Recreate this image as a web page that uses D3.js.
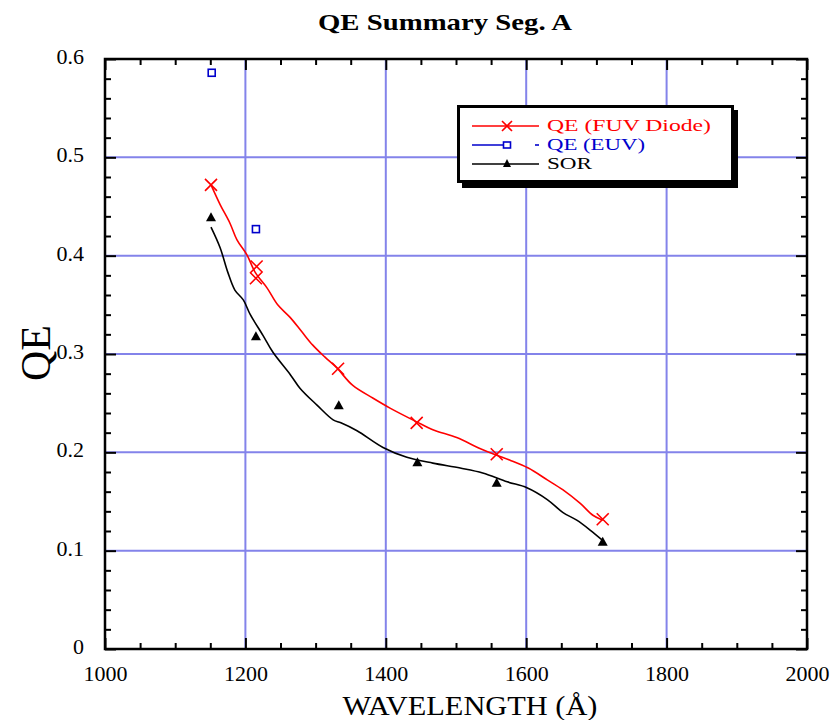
<!DOCTYPE html>
<html><head><meta charset="utf-8">
<script src="https://cdn.jsdelivr.net/npm/d3@7"></script>
<style>body{margin:0;background:#fff}svg{display:block}text{font-family:"Liberation Serif","Times New Roman",serif}</style>
</head><body>
<svg id="c" width="836" height="720"></svg>
<script>
// ---- data ----
const xTicks = [1000, 1200, 1400, 1600, 1800, 2000];
const yTicks = [0, 0.1, 0.2, 0.3, 0.4, 0.5, 0.6];
const yTickLabels = ["0", "0.1", "0.2", "0.3", "0.4", "0.5", "0.6"];
const fuvPoints = [[1151,0.472],[1216,0.389],[1215,0.377],[1332,0.285],[1444,0.230],[1558,0.198],[1709,0.132]];
const euvPoints = [[1152,0.586],[1215,0.427]];
const sorPoints = [[1151,0.439],[1215,0.318],[1333,0.248],[1445,0.190],[1558,0.169],[1709,0.109]];
const fuvCurve = [[1151,0.472],[1164,0.452],[1178,0.433],[1188,0.416],[1202,0.401],[1214,0.383],[1231,0.367],[1246,0.350],[1264,0.337],[1281,0.322],[1296,0.309],[1313,0.297],[1330,0.286],[1353,0.268],[1382,0.255],[1406,0.245],[1444,0.231],[1467,0.223],[1501,0.215],[1534,0.204],[1558,0.197],[1577,0.192],[1603,0.184],[1630,0.172],[1652,0.162],[1677,0.148],[1695,0.136],[1709,0.131]];
const sorCurve = [[1151,0.429],[1164,0.408],[1175,0.383],[1185,0.365],[1197,0.355],[1207,0.340],[1225,0.319],[1239,0.302],[1264,0.279],[1278,0.265],[1302,0.248],[1325,0.233],[1336,0.230],[1359,0.222],[1396,0.205],[1430,0.195],[1467,0.189],[1506,0.184],[1538,0.179],[1573,0.170],[1601,0.164],[1630,0.152],[1652,0.139],[1672,0.131],[1691,0.121],[1708,0.111]];
const legendLabels = ["QE (FUV Diode)", "QE (EUV)", "SOR"];
const title = "QE Summary Seg. A";
const xTitle = "WAVELENGTH (Å)";
const yTitle = "QE";

const FONT = "Liberation Serif, Times New Roman, serif";
const svg = d3.select("#c");
const L=105, R=807, T=59, B=649;
const x = d3.scaleLinear().domain([1000,2000]).range([L,R]);
const y = d3.scaleLinear().domain([0,0.6]).range([B,T]);
const grid = "#8383ea";

// grid
const g = svg.append("g");
g.selectAll(".gx").data(xTicks.slice(1,-1)).join("line")
  .attr("x1",d=>x(d)).attr("x2",d=>x(d)).attr("y1",T).attr("y2",B)
  .attr("stroke",grid).attr("stroke-width",2);
g.selectAll(".gy").data(yTicks.slice(1,-1)).join("line")
  .attr("y1",d=>y(d)).attr("y2",d=>y(d)).attr("x1",L).attr("x2",R)
  .attr("stroke",grid).attr("stroke-width",2);

// axes
const xMinor = d3.range(1000,2001,50).filter(v=>v%200!==0);
const yMinor = d3.range(0,31).map(i=>i*0.02).filter((v,i)=>i%5!==0);
function styleAxis(sel){ sel.attr("font-family",FONT); sel.select(".domain").remove(); sel.selectAll("line").attr("stroke","#000").attr("stroke-width",2); sel.selectAll("text").attr("font-size",22).attr("fill","#000").attr("font-family",FONT); }
svg.append("g").attr("transform",`translate(0,${B})`).call(d3.axisBottom(x).tickValues(xTicks).tickSizeInner(-11).tickSizeOuter(0).tickPadding(16).tickFormat(d3.format("d"))).call(styleAxis);
svg.append("g").attr("transform",`translate(0,${B})`).call(d3.axisBottom(x).tickValues(xMinor).tickSize(-6).tickFormat("")).call(styleAxis);
svg.append("g").attr("transform",`translate(0,${T})`).call(d3.axisTop(x).tickValues(xTicks).tickSize(-11).tickFormat("")).call(styleAxis);
svg.append("g").attr("transform",`translate(0,${T})`).call(d3.axisTop(x).tickValues(xMinor).tickSize(-6).tickFormat("")).call(styleAxis);
const yl = svg.append("g").attr("transform",`translate(${L},0)`).call(d3.axisLeft(y).tickValues(yTicks).tickSizeInner(-11).tickSizeOuter(0).tickPadding(21).tickFormat((d,i)=>yTickLabels[i])).call(styleAxis);
yl.selectAll("text").attr("dy","0.2em");
svg.append("g").attr("transform",`translate(${L},0)`).call(d3.axisLeft(y).tickValues(yMinor).tickSize(-6).tickFormat("")).call(styleAxis);
svg.append("g").attr("transform",`translate(${R},0)`).call(d3.axisRight(y).tickValues(yTicks).tickSize(-11).tickFormat("")).call(styleAxis);
svg.append("g").attr("transform",`translate(${R},0)`).call(d3.axisRight(y).tickValues(yMinor).tickSize(-6).tickFormat("")).call(styleAxis);

// frame
svg.append("rect").attr("x",L).attr("y",T).attr("width",R-L).attr("height",B-T).attr("fill","none").attr("stroke","#000").attr("stroke-width",2.5);

// curves
const line = d3.line().x(d=>x(d[0])).y(d=>y(d[1])).curve(d3.curveCatmullRom.alpha(0.5));
svg.append("path").datum(fuvCurve).attr("d",line).attr("fill","none").attr("stroke","#f00").attr("stroke-width",1.6);
svg.append("path").datum(sorCurve).attr("d",line).attr("fill","none").attr("stroke","#000").attr("stroke-width",1.6);

// markers
const xMark = (sel)=>sel.append("path").attr("d","M-6,-6L6,6M-6,6L6,-6").attr("stroke","#f00").attr("stroke-width",1.6).attr("fill","none");
const triPath = "M0,-5L5,4L-5,4Z";
svg.selectAll(".fuv").data(fuvPoints).join("g").attr("transform",d=>`translate(${x(d[0])},${y(d[1])})`).call(xMark);
svg.selectAll(".euv").data(euvPoints).join("rect").attr("x",d=>x(d[0])-3.5).attr("y",d=>y(d[1])-3.5).attr("width",7).attr("height",7).attr("fill","none").attr("stroke","#0000cc").attr("stroke-width",1.6);
svg.selectAll(".sor").data(sorPoints).join("path").attr("transform",d=>`translate(${x(d[0])},${y(d[1])})`).attr("d",triPath).attr("fill","#000");

// legend
const lg = svg.append("g");
lg.append("rect").attr("x",462).attr("y",110).attr("width",276).attr("height",78).attr("fill","#000");
lg.append("rect").attr("x",458.5).attr("y",106.5).attr("width",274).attr("height",75).attr("fill","#fff").attr("stroke","#000").attr("stroke-width",3);
const rows=[126,145,164], lens=[164,98,45], cols=["#f00","#0000cc","#000"];
lg.append("line").attr("x1",472).attr("x2",539).attr("y1",rows[0]).attr("y2",rows[0]).attr("stroke",cols[0]).attr("stroke-width",1.6);
lg.append("g").attr("transform",`translate(507,${rows[0]})`).call(s=>s.append("path").attr("d","M-5,-5L5,5M-5,5L5,-5").attr("stroke","#f00").attr("stroke-width",1.6));
lg.append("line").attr("x1",472).attr("x2",505).attr("y1",rows[1]).attr("y2",rows[1]).attr("stroke",cols[1]).attr("stroke-width",1.6);
lg.append("line").attr("x1",535).attr("x2",539).attr("y1",rows[1]).attr("y2",rows[1]).attr("stroke",cols[1]).attr("stroke-width",1.6);
lg.append("rect").attr("x",503.5).attr("y",rows[1]-3).attr("width",7).attr("height",6).attr("fill","#fff").attr("stroke",cols[1]).attr("stroke-width",1.6);
lg.append("line").attr("x1",472).attr("x2",539).attr("y1",rows[2]).attr("y2",rows[2]).attr("stroke",cols[2]).attr("stroke-width",1.6);
lg.append("path").attr("transform",`translate(507,${rows[2]})`).attr("d","M0,-5L4,3L-4,3Z").attr("fill","#000");
legendLabels.forEach((t,i)=>{
  lg.append("text").attr("x",547).attr("y",rows[i]+5).attr("font-size",16).attr("font-family",FONT).attr("fill",cols[i])
    .attr("textLength",lens[i]).attr("lengthAdjust","spacingAndGlyphs").text(t);
});

// titles
svg.append("text").attr("x",445).attr("y",30).attr("text-anchor","middle").attr("font-size",24).attr("font-weight","bold").attr("font-family",FONT)
  .attr("textLength",254).attr("lengthAdjust","spacingAndGlyphs").text(title);
svg.append("text").attr("x",470).attr("y",715).attr("text-anchor","middle").attr("font-size",27).attr("font-family",FONT)
  .attr("textLength",255).attr("lengthAdjust","spacingAndGlyphs").text(xTitle);
svg.append("text").attr("transform","translate(50,353) rotate(-90)").attr("text-anchor","middle").attr("font-size",42).attr("font-family",FONT).text(yTitle);
</script>
</body></html>
